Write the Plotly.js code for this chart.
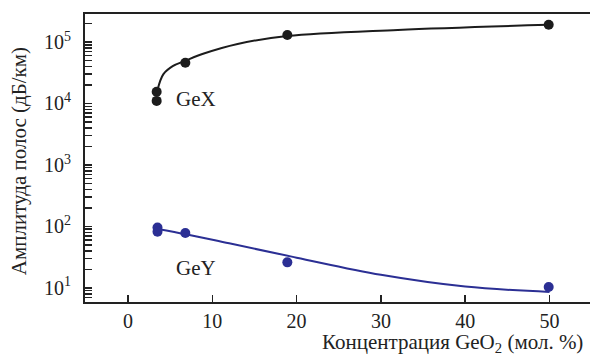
<!DOCTYPE html>
<html>
<head>
<meta charset="utf-8">
<script src="https://cdn.plot.ly/plotly-3.0.1.min.js"></script>
<style>html,body{margin:0;padding:0;background:#fff;}#chart{width:590px;height:356px;}</style>
</head>
<body>
<div id="chart"></div>
<script>
// GeX measured points
const gexX = [3.4, 3.4, 6.8, 18.9, 49.9];
const gexY = [15500, 11000, 46000, 130000, 190000];
// GeX fitted curve
const gexCurveX = [3.5, 4.2, 5.3, 6.8, 9.0, 13.0, 18.9, 32.0, 49.9];
const gexCurveY = [16600, 30000, 40500, 49500, 65000, 93000, 125000, 157000, 190000];
// GeY measured points
const geyX = [3.5, 3.5, 6.8, 18.9, 49.9];
const geyY = [96, 82, 78, 26, 10.3];
// GeY fitted curve
const geyCurveX = [3.5, 7.0, 12.0, 20.0, 30.0, 40.0, 50.0];
const geyCurveY = [91, 74, 53, 31, 16.3, 10.5, 8.6];
// Axis ticks
const xTicks = [0, 10, 20, 30, 40, 50];
const yDecades = [1, 2, 3, 4, 5];
const yDecadeLabels = ["10<sup>1</sup>", "10<sup>2</sup>", "10<sup>3</sup>", "10<sup>4</sup>", "10<sup>5</sup>"];

const tickvals = [], ticktext = [];
for (let e = 0; e <= 5; e++) {
  for (let k = 1; k <= 9; k++) {
    tickvals.push(k * Math.pow(10, e));
    const idx = yDecades.indexOf(e);
    ticktext.push(k === 1 && idx >= 0 ? yDecadeLabels[idx] : "");
  }
}

const black = "#1c1c1c", blue = "#2b2f94";
const font = "Liberation Serif";

const traces = [
  {x: gexCurveX, y: gexCurveY, mode: "lines", line: {color: black, width: 2, shape: "spline", smoothing: 1.0}, hoverinfo: "skip"},
  {x: gexX, y: gexY, mode: "markers", marker: {color: black, size: 10}},
  {x: geyCurveX, y: geyCurveY, mode: "lines", line: {color: blue, width: 2, shape: "spline", smoothing: 1.0}, hoverinfo: "skip"},
  {x: geyX, y: geyY, mode: "markers", marker: {color: blue, size: 10}}
];

const layout = {
  width: 590, height: 356,
  margin: {l: 85, r: 0, t: 14, b: 54},
  paper_bgcolor: "#fff", plot_bgcolor: "#fff",
  showlegend: false,
  font: {family: font, size: 20, color: "#222"},
  xaxis: {
    range: [-5.1, 54.8], tickvals: xTicks, ticktext: xTicks.map(String),
    ticks: "inside", ticklen: 7, tickwidth: 1.5, tickcolor: "#222",
    showline: true, linecolor: "#222", linewidth: 2, mirror: true,
    showgrid: false, zeroline: false,
    tickfont: {family: font, size: 20, color: "#222"}
  },
  yaxis: {
    type: "log", range: [0.77, 5.455],
    tickvals: tickvals, ticktext: ticktext,
    ticks: "inside", ticklen: 7, tickwidth: 1.5, tickcolor: "#222",
    ticklabelstandoff: 8,
    showline: true, linecolor: "#222", linewidth: 2, mirror: false,
    showgrid: false, zeroline: false,
    tickfont: {family: font, size: 20, color: "#222"}
  },
  annotations: [
    {text: "Концентрация GeO<sub>2</sub> (мол. %)", xref: "paper", yref: "paper", x: 0.99, y: -0.143, xanchor: "right", yanchor: "middle", showarrow: false, font: {family: font, size: 21, color: "#222"}},
    {text: "Амплитуда полос (дБ/км)", xref: "paper", yref: "paper", x: -0.13, y: 0.49, xanchor: "center", yanchor: "middle", textangle: -90, showarrow: false, font: {family: font, size: 21, color: "#222"}},
    {text: "GeX", x: 5.5, y: 4.07, xref: "x", yref: "y", xanchor: "left", yanchor: "middle", showarrow: false, font: {family: font, size: 21, color: "#222"}},
    {text: "GeY", x: 5.5, y: 1.32, xref: "x", yref: "y", xanchor: "left", yanchor: "middle", showarrow: false, font: {family: font, size: 21, color: "#222"}}
  ]
};

Plotly.newPlot("chart", traces, layout, {staticPlot: true, displayModeBar: false});
</script>
</body>
</html>
